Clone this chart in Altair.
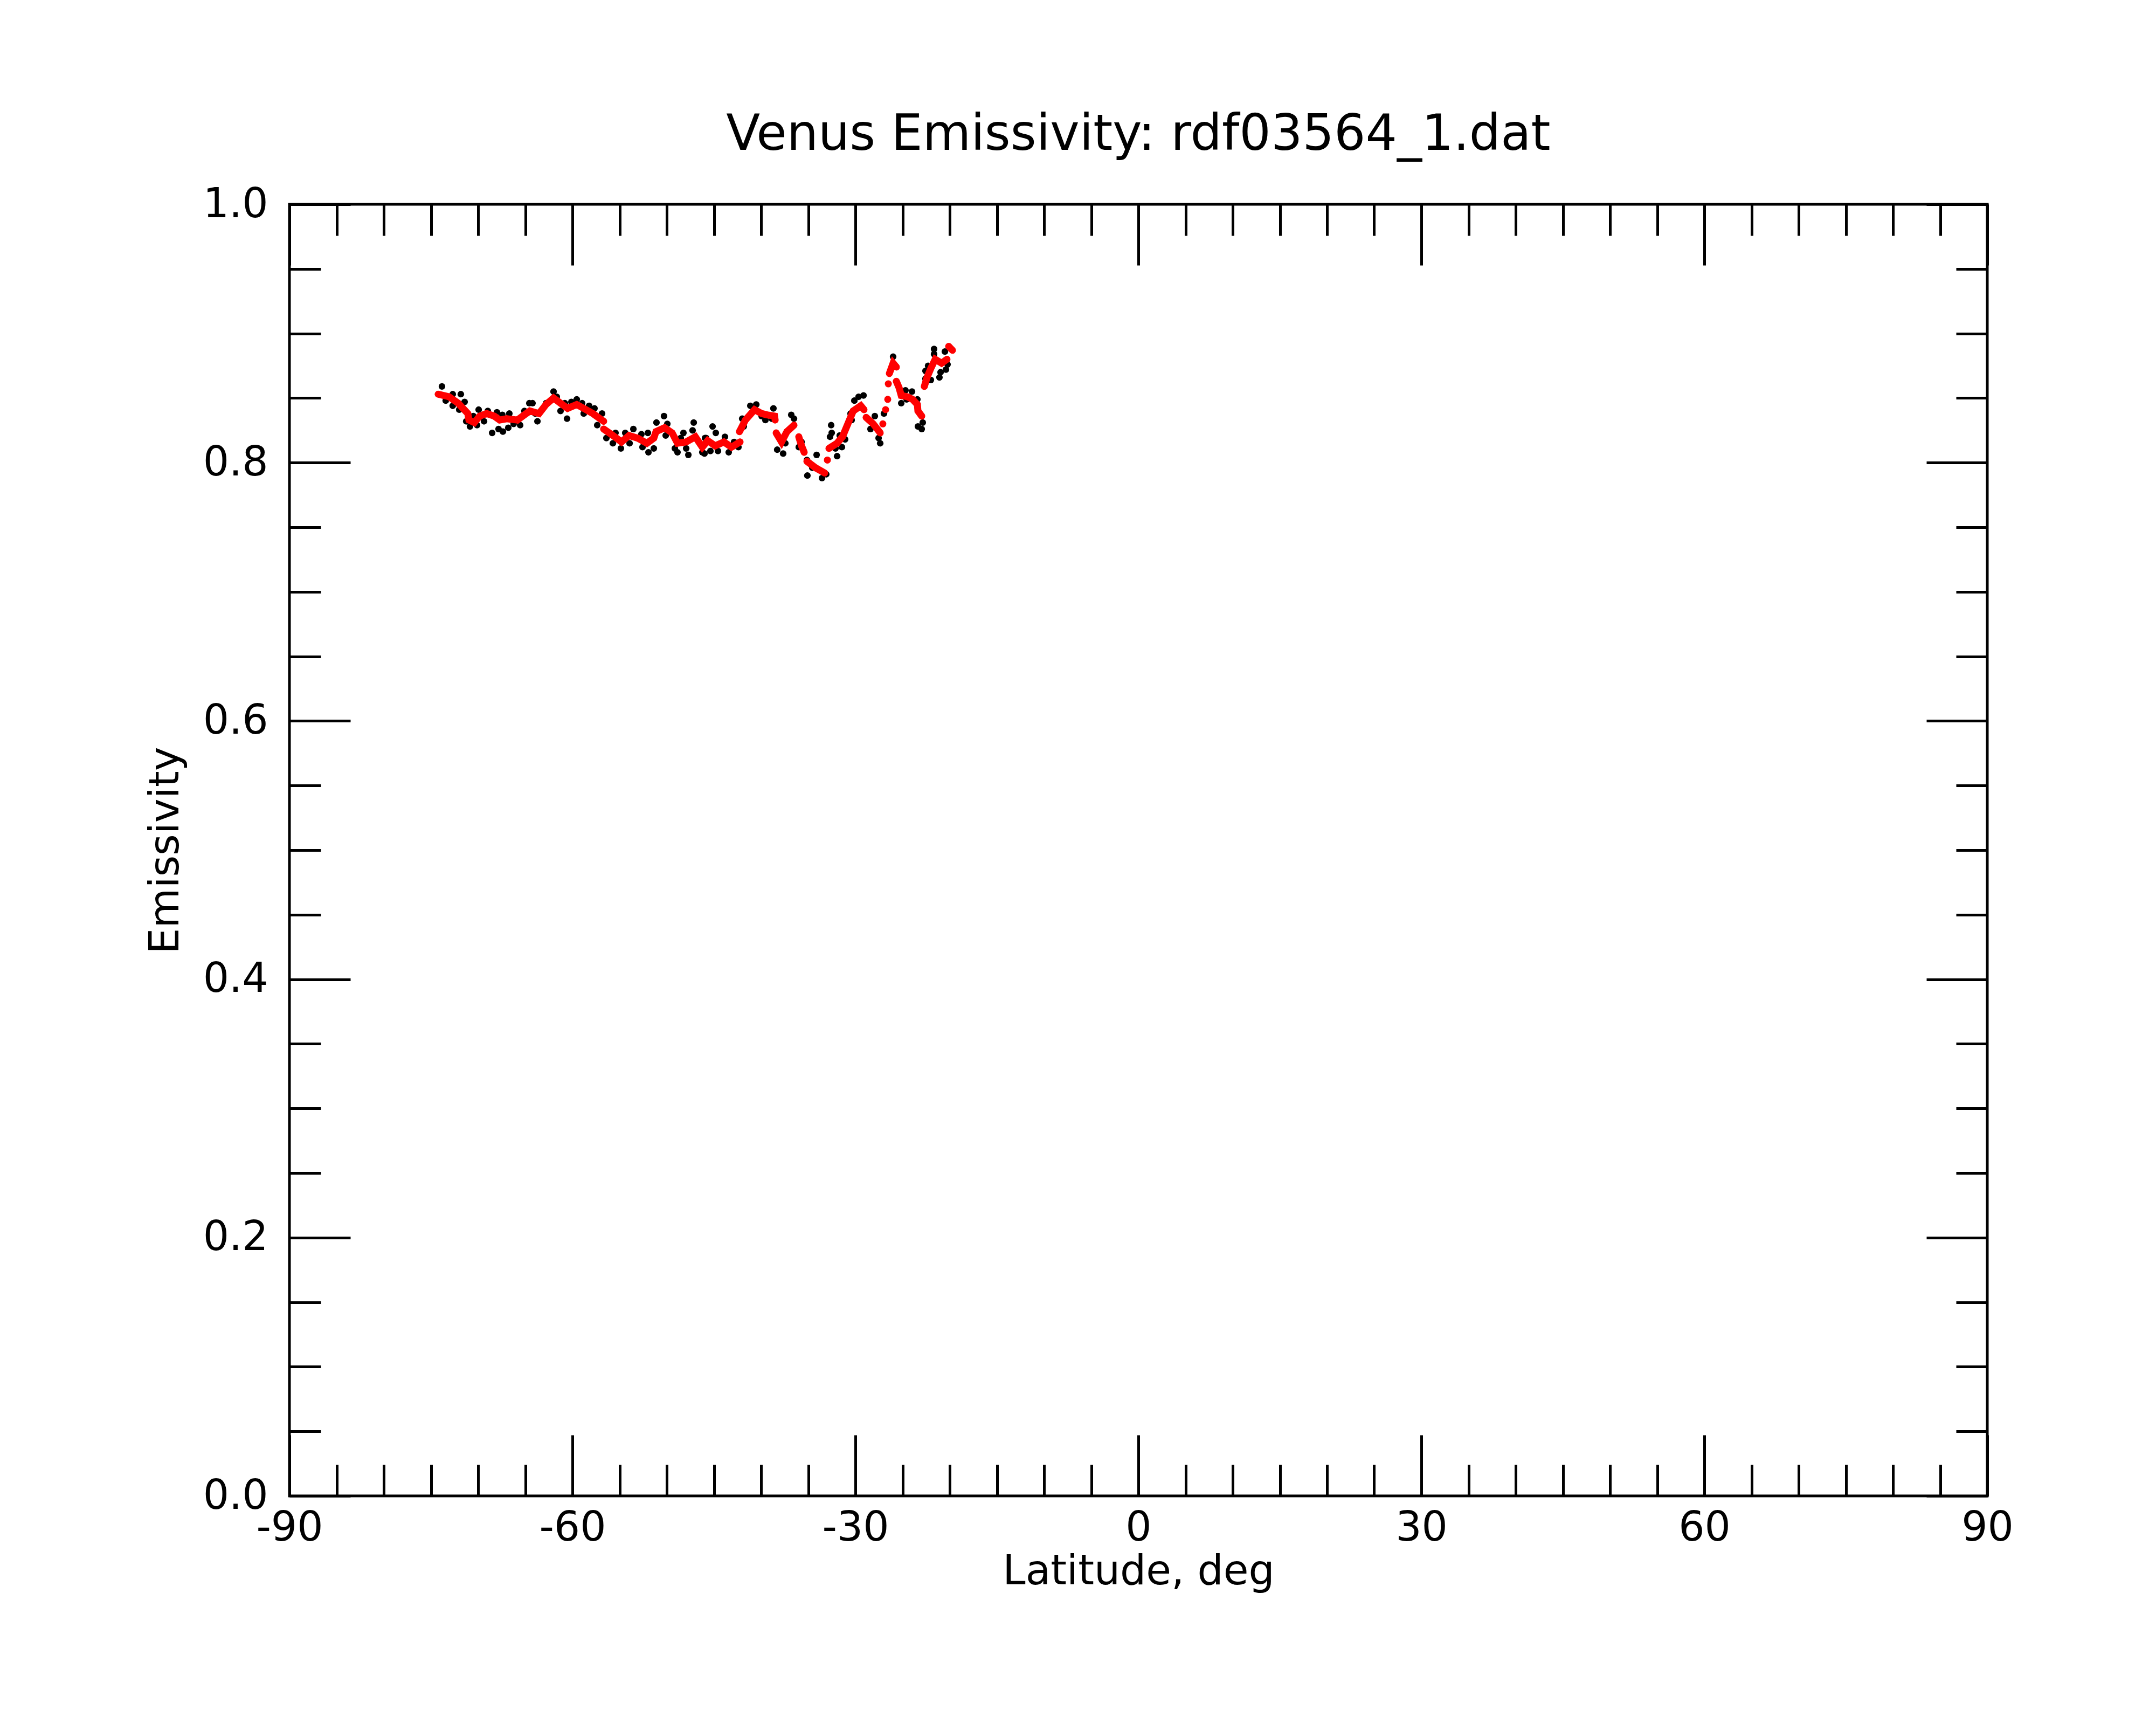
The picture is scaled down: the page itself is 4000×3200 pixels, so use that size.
import altair as alt
import pandas as pd

# ---- smoothed (red) series: latitude, emissivity, contiguous-run id ----
red_lat = [-74.23, -73.09, -72.11, -71.09, -70.97, -70.40, -69.83, -69.09, -68.29, -67.71,
           -66.97, -65.83, -65.09, -64.51, -63.54, -62.80, -62.00, -61.26, -60.51, -59.54,
           -58.80, -57.83, -56.69,
           -56.69, -55.71, -54.80, -54.00, -53.09, -52.11, -51.37, -51.14, -50.23, -49.43,
           -48.86, -47.94, -46.97, -46.23, -45.66, -44.86, -43.94, -43.14, -42.23,
           -42.29, -41.66, -40.69, -39.94, -39.37, -38.57, -38.51,
           -38.40, -37.83, -37.26, -36.51,
           -36.00, -35.71, -35.43,
           -35.14, -34.23, -33.26,
           -32.97,
           -32.80, -31.94, -31.37, -30.80, -30.23, -29.43, -29.09,
           -28.86, -28.11, -27.37,
           -27.09, -26.80, -26.57, -26.51,
           -26.40, -26.00, -25.66,
           -25.66, -25.37, -25.14, -24.51, -23.94, -23.43, -23.37, -22.97,
           -22.69, -22.40, -22.00, -21.54, -20.86, -20.29,
           -20.11, -19.71]
red_emis = [0.853, 0.851, 0.846, 0.838, 0.833, 0.831, 0.836, 0.838, 0.836, 0.833,
            0.834, 0.833, 0.837, 0.840, 0.838, 0.845, 0.850, 0.846, 0.842, 0.845,
            0.842, 0.838, 0.832,
            0.826, 0.821, 0.816, 0.821, 0.819, 0.815, 0.819, 0.824, 0.827, 0.823,
            0.815, 0.816, 0.820, 0.812, 0.817, 0.813, 0.816, 0.812, 0.816,
            0.824, 0.833, 0.841, 0.838, 0.837, 0.836, 0.833,
            0.823, 0.816, 0.824, 0.829,
            0.820, 0.813, 0.808,
            0.801, 0.796, 0.792,
            0.802,
            0.811, 0.815, 0.820, 0.830, 0.840, 0.844, 0.841,
            0.835, 0.830, 0.823,
            0.830, 0.841, 0.849, 0.861,
            0.869, 0.877, 0.874,
            0.863, 0.858, 0.852, 0.851, 0.849, 0.845, 0.840, 0.836,
            0.859, 0.866, 0.873, 0.880, 0.877, 0.880,
            0.890, 0.887]
red_seg = [0] * 23 + [1] * 19 + [2] * 7 + [3] * 4 + [4] * 3 + [5] * 3 + [6] + [7] * 7 \
          + [8] * 3 + [9, 10, 11, 12] + [13] * 3 + [14] * 8 + [15] * 6 + [16] * 2

# ---- raw (black) samples ----
black_lat = [-73.83, -72.69, -71.83, -71.43, -73.43, -72.69, -72.00, -70.86, -71.26, -70.51,
             -69.94, -70.11, -69.37, -68.97, -68.00, -68.51, -67.83, -67.37, -67.43, -66.69,
             -66.80, -66.23, -65.54, -65.09, -64.57, -64.23, -63.71, -63.94, -62.80, -62.00,
             -61.66, -61.26, -60.57, -60.80,
             -60.11, -59.54, -58.97, -58.80, -58.23, -57.66, -56.86, -57.37, -56.40, -55.71,
             -55.43, -54.86, -54.40, -53.54, -53.94, -52.69, -52.57, -52.00, -51.94, -51.37,
             -51.09, -50.29, -49.94, -50.11, -49.14, -48.86, -48.23, -48.51, -47.71, -47.94,
             -47.14, -47.26, -46.23, -45.94,
             -46.00, -45.83, -45.14, -44.80, -45.37, -44.57, -43.83, -43.43, -42.86, -42.40,
             -42.00, -41.83, -41.14, -40.51, -39.94, -39.54, -38.69, -38.86, -38.29, -37.66,
             -37.43, -36.80, -36.51, -35.71, -36.00, -35.09, -35.14, -34.11, -34.57, -33.54,
             -33.09, -32.57, -32.51, -32.69, -31.94, -32.11,
             -31.43, -31.09, -31.66, -30.40, -30.51, -30.11, -29.66, -29.14, -29.09, -28.40,
             -27.94, -27.54, -27.37, -26.97, -26.00, -25.66, -25.14, -24.69, -24.00, -24.57,
             -23.43, -23.37, -22.97, -22.86, -22.57, -22.57, -22.29, -22.00, -21.66, -21.66,
             -21.09, -20.97, -20.51, -20.40, -20.23]
black_emis = [0.859, 0.853, 0.853, 0.847, 0.848, 0.844, 0.841, 0.828, 0.832, 0.836,
              0.841, 0.829, 0.832, 0.840, 0.839, 0.823, 0.826, 0.824, 0.837, 0.838,
              0.827, 0.830, 0.829, 0.840, 0.846, 0.846, 0.832, 0.838, 0.846, 0.855,
              0.851, 0.840, 0.834, 0.846,
              0.847, 0.849, 0.846, 0.838, 0.844, 0.842, 0.838, 0.829, 0.819, 0.815,
              0.823, 0.811, 0.823, 0.826, 0.815, 0.822, 0.812, 0.823, 0.808, 0.811,
              0.831, 0.836, 0.830, 0.821, 0.811, 0.808, 0.823, 0.819, 0.806, 0.811,
              0.831, 0.825, 0.808, 0.819,
              0.807, 0.819, 0.828, 0.823, 0.809, 0.809, 0.820, 0.808, 0.816, 0.812,
              0.834, 0.828, 0.844, 0.845, 0.836, 0.833, 0.842, 0.834, 0.810, 0.807,
              0.815, 0.837, 0.834, 0.816, 0.812, 0.790, 0.802, 0.806, 0.796, 0.788,
              0.791, 0.829, 0.823, 0.820, 0.805, 0.811,
              0.812, 0.818, 0.821, 0.833, 0.838, 0.848, 0.851, 0.852, 0.841, 0.826,
              0.836, 0.819, 0.815, 0.838, 0.882, 0.874, 0.846, 0.856, 0.855, 0.849,
              0.849, 0.828, 0.826, 0.831, 0.871, 0.865, 0.875, 0.864, 0.888, 0.884,
              0.866, 0.870, 0.886, 0.872, 0.876]

# ---- axis ticks ----
x_major = [-90, -60, -30, 0, 30, 60, 90]
x_minor = [-90, -85, -80, -75, -70, -65, -60, -55, -50, -45, -40, -35, -30, -25, -20, -15,
           -10, -5, 0, 5, 10, 15, 20, 25, 30, 35, 40, 45, 50, 55, 60, 65, 70, 75, 80, 85, 90]
y_major = [0.0, 0.2, 0.4, 0.6, 0.8, 1.0]
y_minor = [0.0, 0.05, 0.1, 0.15, 0.2, 0.25, 0.3, 0.35, 0.4, 0.45, 0.5, 0.55, 0.6, 0.65,
           0.7, 0.75, 0.8, 0.85, 0.9, 0.95, 1.0]

W, H = 3150, 2396
FONT = "DejaVu Sans"
LW = 5
MAJ, MIN = 113, 58

red_df = pd.DataFrame({"lat": red_lat, "emis": red_emis, "seg": red_seg})
black_df = pd.DataFrame({"lat": black_lat, "emis": black_emis})

xscale = alt.Scale(domain=[-90, 90], nice=False, zero=False)
yscale = alt.Scale(domain=[0, 1], nice=False, zero=False)


def tick_axis(orient, values, size, offset):
    return alt.Axis(orient=orient, offset=offset, values=values, tickSize=size,
                    tickWidth=LW, tickColor="black", ticks=True, labels=False,
                    domain=False, grid=False, title="")


label_x = alt.Axis(orient="bottom", values=x_major, ticks=False, tickSize=0, domain=False,
                   grid=False, labels=True, labelFont=FONT, labelFontSize=76,
                   labelExpr="toString(datum.value)",
                   labelColor="black", labelPadding=22, labelFlush=False, labelOverlap=False,
                   title="Latitude, deg", titleFont=FONT, titleFontSize=76,
                   titleFontWeight="normal", titleColor="black", titlePadding=6)
label_y = alt.Axis(orient="left", values=y_major, format=".1f", ticks=False, tickSize=0,
                   domain=False, grid=False, labels=True, labelFont=FONT, labelFontSize=76,
                   labelColor="black", labelPadding=40, labelFlush=False, labelOverlap=False,
                   title="Emissivity", titleFont=FONT, titleFontSize=76,
                   titleFontWeight="normal", titleColor="black", titlePadding=30)

black_layer = alt.Chart(black_df).mark_circle(size=150, color="black", opacity=1).encode(
    x=alt.X("lat:Q", scale=xscale, axis=label_x),
    y=alt.Y("emis:Q", scale=yscale, axis=label_y),
)

red_line = alt.Chart(red_df).mark_line(color="red", strokeWidth=13, strokeCap="round").encode(
    x=alt.X("lat:Q", scale=xscale, axis=tick_axis("top", x_major, MAJ, -H)),
    y=alt.Y("emis:Q", scale=yscale, axis=tick_axis("right", y_major, MAJ, -W)),
    detail="seg:N",
)

red_pts = alt.Chart(red_df).mark_circle(size=150, color="red", opacity=1).encode(
    x=alt.X("lat:Q", scale=xscale, axis=tick_axis("top", x_minor, MIN, -H)),
    y=alt.Y("emis:Q", scale=yscale, axis=tick_axis("right", y_minor, MIN, -W)),
)

ghost_major = alt.Chart(red_df).mark_circle(opacity=0).encode(
    x=alt.X("lat:Q", scale=xscale, axis=tick_axis("bottom", x_major, MAJ, -H)),
    y=alt.Y("emis:Q", scale=yscale, axis=tick_axis("left", y_major, MAJ, -W)),
)

ghost_minor = alt.Chart(red_df).mark_circle(opacity=0).encode(
    x=alt.X("lat:Q", scale=xscale, axis=tick_axis("bottom", x_minor, MIN, -H)),
    y=alt.Y("emis:Q", scale=yscale, axis=tick_axis("left", y_minor, MIN, -W)),
)

chart = alt.layer(black_layer, red_line, red_pts, ghost_major, ghost_minor).resolve_axis(
    x="independent", y="independent"
).properties(
    width=W,
    height=H,
    title=alt.TitleParams("Venus Emissivity: rdf03564_1.dat", font=FONT, fontSize=92,
                          fontWeight="normal", color="black", anchor="middle", offset=44),
    autosize=alt.AutoSizeParams(type="none"),
    padding={"left": 529, "top": 371, "right": 305, "bottom": 417},
    background="white",
).configure_view(stroke="black", strokeWidth=LW)

chart.save("out.html", embed_options={"renderer": "svg", "actions": False})
